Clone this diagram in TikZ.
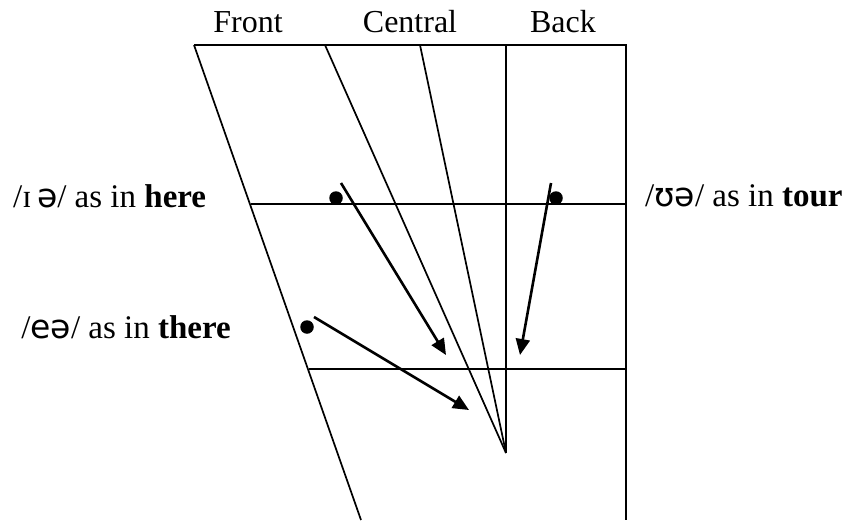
\documentclass[tikz,border=0pt]{standalone}
\usepackage{fontspec}
\setmainfont{Liberation Serif}
\newfontfamily\ipafont{DejaVu Sans}
\usetikzlibrary{arrows.meta}
\tikzset{
  frame/.style={line width=1.7pt},
  glide/.style={line width=2.6pt,-{Triangle[length=16pt,width=14pt]}},
  dot/.style={circle,fill=black,inner sep=0pt,minimum size=13.5pt},
  lbl/.style={inner sep=0pt,font=\fontsize{33}{39}\selectfont},
  head/.style={inner sep=0pt,font=\fontsize{32}{38}\selectfont}
}
\begin{document}
\begin{tikzpicture}[x=1pt,y=-1pt]
\useasboundingbox (0,0) rectangle (845,527);
% frame coordinates
\coordinate (tl) at (194,45);
\coordinate (tr) at (626,45);
\coordinate (bl) at (361,520);
\coordinate (br) at (626,520);
\coordinate (c1) at (325,45);
\coordinate (c2) at (420,45);
\coordinate (bk) at (506,45);
\coordinate (v) at (506,453);
\coordinate (m1) at (251,204);
\coordinate (m2) at (626,204);
\coordinate (l1) at (309,369);
\coordinate (l2) at (626,369);
\draw[frame] (tl) -- (tr) -- (br);
\draw[frame] (tl) -- (bl);
\draw[frame] (c1) -- (v);
\draw[frame] (c2) -- (v);
\draw[frame] (bk) -- (v);
\draw[frame] (m1) -- (m2);
\draw[frame] (l1) -- (l2);
% headings
\node[head] (front) at (248,22) {Front};
\node[head] (central) at (410,22) {Central};
\node[head] (back) at (563,22) {Back};
% dots
\node[dot] (d1) at (336,198) {};
\node[dot] (d2) at (556,198) {};
\node[dot] (d3) at (307,327) {};
% arrows
\coordinate (a1s) at (341,183);
\coordinate (a1e) at (446,355);
\coordinate (a2s) at (551,183);
\coordinate (a2e) at (520,355);
\coordinate (a3s) at (314,317);
\coordinate (a3e) at (469,410);
\draw[glide] (a1s) -- (a1e);
\draw[glide] (a2s) -- (a2e);
\draw[glide] (a3s) -- (a3e);
% labels
\node[lbl,anchor=west] (here) at (13,196) {/ɪ\,{\ipafont ə}/ as in \textbf{here}};
\node[lbl,anchor=west] (tour) at (645,196) {/{\ipafont ʊə}/ as in \textbf{tour}};
\node[lbl,anchor=east] (there) at (231,327) {/{\ipafont eə}/ as in \textbf{there}};
\end{tikzpicture}
\end{document}
